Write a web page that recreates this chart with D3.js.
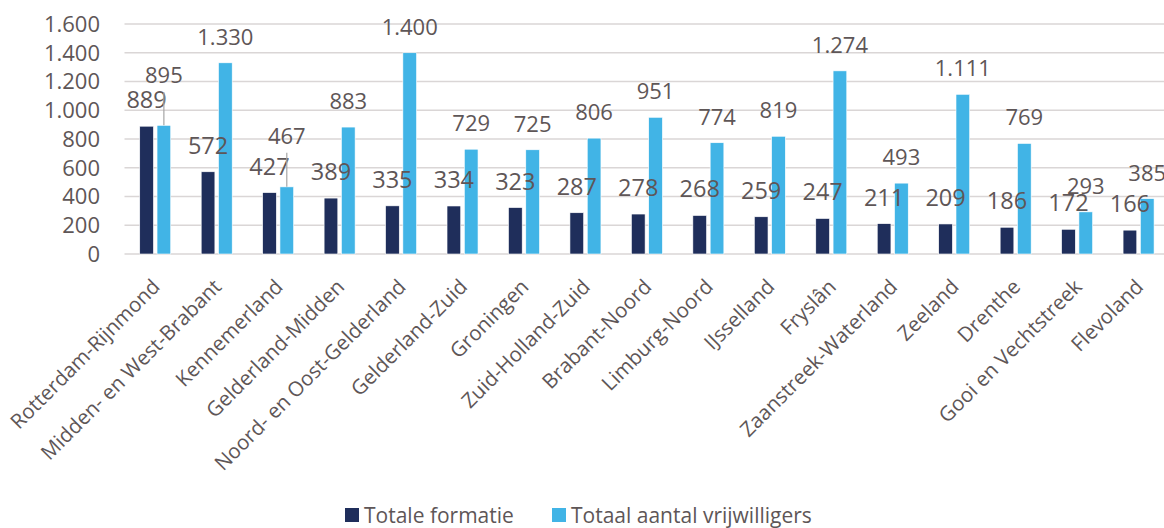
<!DOCTYPE html>
<html>
<head>
<meta charset="utf-8">
<script src="https://cdn.jsdelivr.net/npm/d3@7"></script>
<style>
  body { margin: 0; background: #fff; }
  svg { display: block; font-family: "Open Sans", sans-serif; }
</style>
</head>
<body>
<div id="chart"></div>
<script>
const categories = ["Rotterdam-Rijnmond", "Midden- en West-Brabant", "Kennemerland", "Gelderland-Midden",
  "Noord- en Oost-Gelderland", "Gelderland-Zuid", "Groningen", "Zuid-Holland-Zuid", "Brabant-Noord",
  "Limburg-Noord", "IJsselland", "Fryslân", "Zaanstreek-Waterland", "Zeeland", "Drenthe",
  "Gooi en Vechtstreek", "Flevoland"];
const formatie = [889, 572, 427, 389, 335, 334, 323, 287, 278, 268, 259, 247, 211, 209, 186, 172, 166];
const vrijwilligers = [895, 1330, 467, 883, 1400, 729, 725, 806, 951, 774, 819, 1274, 493, 1111, 769, 293, 385];
const seriesNames = ["Totale formatie", "Totaal aantal vrijwilligers"];
const yTicks = [0, 200, 400, 600, 800, 1000, 1200, 1400, 1600];

const width = 1164, height = 528;
const margin = {left: 124.5, right: -5.3, top: 24, bottom: 274};
const colors = ["#1f2e5b", "#41b4e6"];
const textColor = "#5e5657";
const labelSize = [23.5, 22];

// labels that were dragged up in the original, with a leader line
const lifted = {"Rotterdam-Rijnmond": 24, "Kennemerland": 25};

const nl = d3.formatLocale({decimal: ",", thousands: ".", grouping: [3], currency: ["€", ""]});
const fmt = nl.format(",d");

const svg = d3.select("#chart").append("svg")
  .attr("width", width).attr("height", height);

const x = d3.scaleBand()
  .domain(categories)
  .range([margin.left, width - margin.right]);

const y = d3.scaleLinear()
  .domain([0, 1600])
  .range([height - margin.bottom, margin.top]);

// gridlines
svg.append("g").selectAll("line").data(yTicks).enter().append("line")
  .attr("x1", margin.left).attr("x2", width)
  .attr("y1", d => y(d)).attr("y2", d => y(d))
  .attr("stroke", "#dad6d6").attr("stroke-width", 1.5);

// y axis labels
svg.append("g").selectAll("text").data(yTicks).enter().append("text")
  .attr("x", 100).attr("y", d => y(d))
  .attr("dy", "0.36em")
  .attr("text-anchor", "end")
  .attr("font-size", 22)
  .attr("fill", textColor)
  .text(d => fmt(d));

const barW = 13.7, gap = 3.6;
const series = [formatie, vrijwilligers];
const barX = (c, s) => x(c) + x.bandwidth() / 2 + (s === 0 ? -gap / 2 - barW : gap / 2);

// bars first, labels on top
series.forEach((vals, s) => {
  svg.append("g").selectAll("rect").data(categories).enter().append("rect")
    .attr("x", c => barX(c, s))
    .attr("y", (c, i) => y(vals[i]))
    .attr("width", barW)
    .attr("height", (c, i) => y(0) - y(vals[i]))
    .attr("fill", colors[s])
    .attr("stroke", "#fff").attr("stroke-width", 0.6);
});

series.forEach((vals, s) => {
  const lbl = svg.append("g");
  categories.forEach((c, i) => {
    const v = vals[i];
    const cx = barX(c, s) + barW / 2;
    const lift = s === 1 && lifted[c] ? lifted[c] : 0;
    if (lift) {
      lbl.append("line")
        .attr("x1", cx).attr("x2", cx)
        .attr("y1", y(v)).attr("y2", y(v) - 18 - lift + 9)
        .attr("stroke", "#a6a6a6").attr("stroke-width", 1.2);
    }
    lbl.append("text")
      .attr("x", cx)
      .attr("y", y(v) - 18 - lift)
      .attr("text-anchor", "middle")
      .attr("font-size", labelSize[s])
      .attr("fill", textColor)
      .text(fmt(v));
  });
});

// category labels
svg.append("g").selectAll("text").data(categories).enter().append("text")
  .attr("transform", d => `translate(${x(d) + x.bandwidth() / 2 + 6},${y(0) + 34}) rotate(-45)`)
  .attr("text-anchor", "end")
  .attr("font-size", 20.5)
  .attr("fill", textColor)
  .text(d => d);

// legend
const legendX = [345, 552];
const leg = svg.append("g");
seriesNames.forEach((n, i) => {
  leg.append("rect")
    .attr("x", legendX[i]).attr("y", 508)
    .attr("width", 14).attr("height", 14)
    .attr("fill", colors[i]);
  leg.append("text")
    .attr("x", legendX[i] + 19).attr("y", 523)
    .attr("font-size", 21)
    .attr("fill", textColor)
    .text(n);
});
</script>
</body>
</html>
